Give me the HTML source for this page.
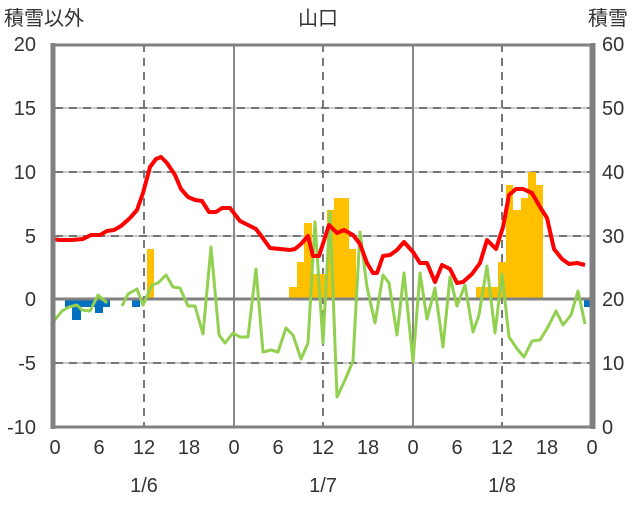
<!DOCTYPE html>
<html><head><meta charset="utf-8"><style>
body{margin:0;background:#fff;width:636px;height:501px;overflow:hidden}
text{font-family:"Liberation Sans","Noto Sans CJK JP",sans-serif;fill:#333}
</style></head><body>
<svg width="636" height="501" viewBox="0 0 636 501">
<g stroke="#bbb" stroke-width="1.5">
<line x1="55" y1="108" x2="592" y2="108"/><line x1="55" y1="172" x2="592" y2="172"/><line x1="55" y1="236" x2="592" y2="236"/><line x1="55" y1="363" x2="592" y2="363"/>
</g>
<g stroke="#777" stroke-width="2" stroke-dasharray="8,6">
<line x1="55" y1="108" x2="592" y2="108"/><line x1="55" y1="172" x2="592" y2="172"/><line x1="55" y1="236" x2="592" y2="236"/><line x1="55" y1="363" x2="592" y2="363"/>
<line x1="144" y1="44" x2="144" y2="427"/><line x1="323" y1="44" x2="323" y2="427"/><line x1="502" y1="44" x2="502" y2="427"/>
</g>
<g stroke="#888" stroke-width="2"><line x1="234" y1="44" x2="234" y2="427"/><line x1="413" y1="44" x2="413" y2="427"/></g>
<g fill="#FFC000">
<rect x="147" y="249" width="7" height="50"/>
<rect x="289" y="287" width="8" height="12"/><rect x="297" y="262" width="7" height="37"/><rect x="304" y="223" width="8" height="76"/><rect x="312" y="274" width="15" height="25"/><rect x="327" y="210" width="7" height="89"/><rect x="334" y="198" width="15" height="101"/><rect x="349" y="249" width="7" height="50"/>
<rect x="476" y="287" width="22" height="12"/><rect x="498" y="262" width="8" height="37"/><rect x="506" y="185" width="7" height="114"/><rect x="513" y="210" width="8" height="89"/><rect x="521" y="198" width="7" height="101"/><rect x="528" y="172" width="8" height="127"/><rect x="536" y="185" width="7" height="114"/>
</g>
<g fill="#0070C0">
<rect x="65" y="299" width="45" height="8"/><rect x="72" y="299" width="9" height="21"/><rect x="95" y="299" width="8" height="14"/><rect x="132" y="299" width="8" height="8"/><rect x="584" y="299" width="7" height="8"/>
</g>
<line x1="55" y1="299" x2="592" y2="299" stroke="#808080" stroke-width="3"/>
<line x1="55" y1="427" x2="592" y2="427" stroke="#7030A0" stroke-width="3"/>
<polyline fill="none" stroke="#92D050" stroke-width="3" stroke-linejoin="round" points="54,321 62,311 69,307 77,305 82,310 90,311 98,295 107,303"/>
<polyline fill="none" stroke="#92D050" stroke-width="3" stroke-linejoin="round" points="122,306 128,294 137,289 143,305 152,285 158,283 166,275 173,287 180,288 188,306 195,306 203,334 211,247 219,335 225,343 233,333 240,337 248,337 256,269 263,352 271,350 278,352 286,328 293,335 301,359 308,343 315,222 323,343 330,212 337,397 345,380 353,361 360,232 367,287 375,323 383,275 389,283 397,335 404,273 413,362 420,273 427,319 435,288 443,347 450,277 457,306 465,285 473,332 479,315 487,266 495,333 502,274 509,337 518,350 524,357 532,341 540,340 548,327 556,311 563,325 571,315 578,291 585,324"/>
<polyline fill="none" stroke="#FF0000" stroke-width="4" stroke-linejoin="round" points="53,239 60,240 72,240 83,239 91,235 100,235 107,231 114,230 121,226 130,218 137,210 143,193 150,167 156,159 161,157 167,163 175,175 181,189 188,197 195,200 202,201 209,212 216,212 222,208 230,208 240,221 250,226 256,229 262,237 270,248 280,249 290,250 295,249 301,244 308,236 313,256 319,256 329,225 337,233 344,230 353,235 360,244 367,263 373,273 377,273 383,256 390,255 397,250 404,242 413,252 420,263 427,263 435,282 442,265 450,269 457,283 463,282 472,274 480,263 487,240 496,249 503,227 509,195 516,189 523,189 532,193 540,207 547,218 554,249 562,259 569,264 577,263 585,265"/>
<rect x="54" y="45" width="537" height="382" fill="none" stroke="#808080" stroke-width="3"/>
<line x1="53" y1="43" x2="53" y2="429" stroke="#808080" stroke-width="5"/>
<line x1="593" y1="43" x2="593" y2="429" stroke="#808080" stroke-width="5"/>
<g font-size="20" text-anchor="end">
<text x="36" y="51">20</text><text x="36" y="115">15</text><text x="36" y="179">10</text><text x="36" y="243">5</text><text x="36" y="306">0</text><text x="36" y="370">-5</text><text x="36" y="434">-10</text>
</g>
<g font-size="20" text-anchor="start">
<text x="602" y="51">60</text><text x="602" y="115">50</text><text x="602" y="179">40</text><text x="602" y="243">30</text><text x="602" y="306">20</text><text x="602" y="370">10</text><text x="602" y="434">0</text>
</g>
<g font-size="20" text-anchor="middle">
<text x="55" y="454">0</text><text x="99" y="454">6</text><text x="144" y="454">12</text><text x="189" y="454">18</text><text x="234" y="454">0</text><text x="278" y="454">6</text><text x="323" y="454">12</text><text x="368" y="454">18</text><text x="413" y="454">0</text><text x="457" y="454">6</text><text x="502" y="454">12</text><text x="547" y="454">18</text><text x="592" y="454">0</text>
<text x="144" y="492" font-family="Liberation Serif">1/6</text><text x="323" y="492" font-family="Liberation Serif">1/7</text><text x="502" y="492" font-family="Liberation Serif">1/8</text>
<text x="318" y="25">山口</text>
</g>
<text x="4" y="25" font-size="20">積雪以外</text>
<text x="588" y="25" font-size="20">積雪</text>
</svg>
</body></html>
